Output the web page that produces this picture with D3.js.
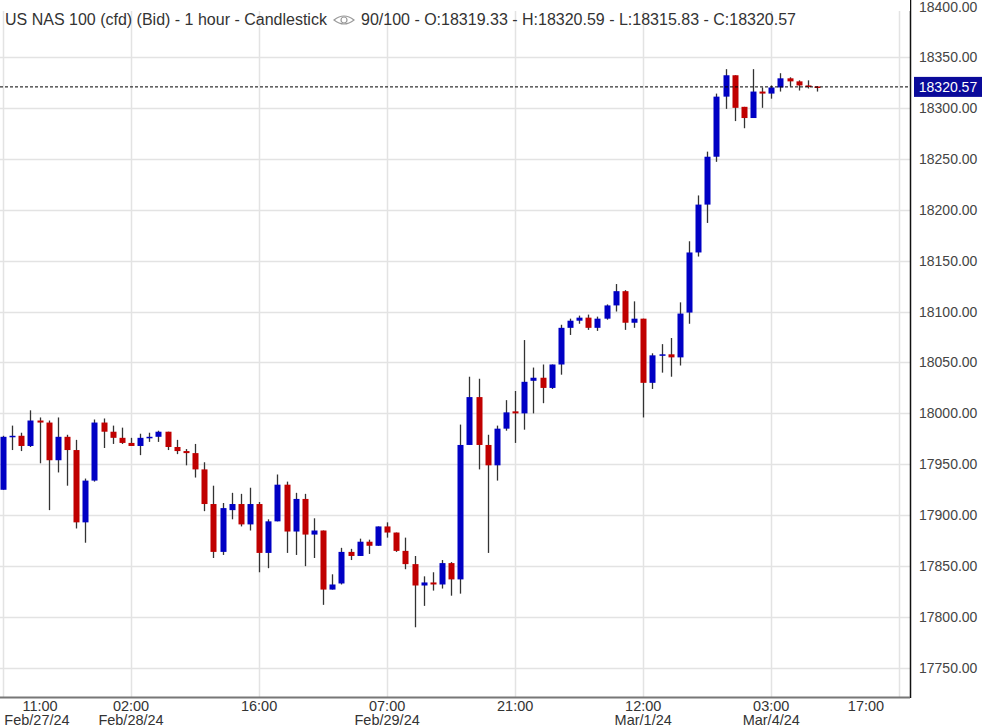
<!DOCTYPE html>
<html><head><meta charset="utf-8">
<script src="https://cdn.jsdelivr.net/npm/d3@7"></script>
<style>body{margin:0;background:#fff}svg{display:block}</style>
</head><body><svg id="c" width="992" height="728"></svg>
<script>
const opens  = [17925,17977,17978,17968,17993,17991,17954,17977,17964,17893,17934,17991,17982,17976,17971,17968,17976,17977,17982,17967,17963,17961,17945,17911,17864,17905,17911,17891,17911,17863,17894,17930,17884,17916,17881,17885,17827,17833,17864,17860,17874,17870,17889,17883,17865,17852,17831,17834,17832,17853,17837,17969,18016,17969,17949,17985,18002,18000,18032,18035,18025,18048,18084,18091,18094,18084,18093,18106,18120,18089,18093,18030,18057,18058,18055,18099,18158,18205,18252,18311,18332,18301,18290,18316,18314,18320,18329,18326,18322,18321];
const highs  = [17978,17988,17981,18003,17996,17993,17996,17979,17974,17936,17994,17995,17988,17986,17976,17980,17981,17983,17982,17974,17965,17970,17952,17929,17912,17922,17921,17927,17913,17896,17940,17933,17922,17921,17897,17885,17842,17868,17867,17877,17876,17889,17893,17883,17878,17860,17840,17844,17856,17854,17989,18036,18034,17979,17988,18013,18022,18072,18045,18048,18048,18087,18093,18096,18097,18095,18107,18127,18121,18110,18093,18059,18068,18074,18109,18169,18214,18257,18314,18338,18332,18301,18338,18320,18322,18334,18330,18327,18327,18321];
const lows   = [17925,17964,17963,17967,17951,17905,17942,17929,17887,17873,17933,17966,17970,17970,17968,17959,17972,17972,17964,17960,17949,17937,17904,17858,17861,17896,17889,17885,17844,17848,17894,17863,17861,17850,17858,17812,17827,17832,17856,17860,17862,17870,17878,17864,17847,17790,17811,17826,17828,17821,17823,17969,17945,17863,17934,17983,17971,17984,18000,18010,18024,18038,18077,18088,18082,18081,18092,18100,18082,18084,17996,18024,18040,18036,18047,18088,18154,18187,18247,18299,18287,18280,18290,18300,18309,18316,18321,18317,18319,18316];
const closes = [17977,17978,17968,17993,17991,17954,17977,17964,17893,17934,17991,17982,17976,17971,17968,17976,17977,17982,17967,17963,17961,17945,17911,17864,17907,17911,17891,17911,17863,17894,17930,17884,17916,17881,17885,17827,17832,17864,17860,17874,17870,17889,17883,17865,17852,17831,17834,17832,17853,17837,17969,18016,17969,17949,17985,18001,18000,18031,18035,18025,18048,18084,18091,18094,18084,18093,18106,18120,18089,18093,18030,18057,18058,18055,18098,18158,18205,18252,18311,18332,18300,18290,18316,18314,18320,18329,18326,18322,18321,18320.57];
const tickIdx   = [0,14,28,42,56,70,84,98];
const tickTime  = ["11:00","02:00","16:00","07:00","21:00","12:00","03:00","17:00"];
const tickDate  = ["Feb/27/24","Feb/28/24","","Feb/29/24","","Mar/1/24","Mar/4/24",""];
const yTicks = [17750,17800,17850,17900,17950,18000,18050,18100,18150,18200,18250,18300,18350,18400];
const lastPrice = 18320.57;

const svg = d3.select("#c");
const PR = 910, PB = 697;
const x = d3.scaleLinear().domain([0, 99.5]).range([3, 3 + 99.5*9.146]);
const y = d3.scaleLinear().domain([17750, 18400]).range([668, 6]);
const blue = "#0000c4", red = "#c00000";

const g = svg.append("g");
g.selectAll(".hg").data(yTicks).join("line").attr("x1",0).attr("x2",PR)
  .attr("y1",d=>Math.round(y(d))+.5).attr("y2",d=>Math.round(y(d))+.5).attr("stroke","#e3e3e3").attr("stroke-width",1.5);
g.selectAll(".vg").data(tickIdx).join("line").attr("y1",0).attr("y2",PB)
  .attr("x1",d=>Math.round(x(d))+.5).attr("x2",d=>Math.round(x(d))+.5).attr("stroke","#e3e3e3").attr("stroke-width",1.5);

const idx = d3.range(opens.length);
g.selectAll(".wick").data(idx).join("line")
  .attr("x1",i=>Math.round(x(i))+.5).attr("x2",i=>Math.round(x(i))+.5)
  .attr("y1",i=>y(highs[i])).attr("y2",i=>y(lows[i])).attr("stroke","#333").attr("stroke-width",1.3);
g.selectAll(".body").data(idx).join("rect")
  .attr("x",i=>Math.round(x(i))-2.5).attr("width",6)
  .attr("y",i=>y(Math.max(opens[i],closes[i])))
  .attr("height",i=>Math.max(1.5, Math.abs(y(opens[i])-y(closes[i]))))
  .attr("fill",i=>closes[i]>=opens[i]?blue:red);

g.append("line").attr("x1",0).attr("x2",PR).attr("y1",y(lastPrice)).attr("y2",y(lastPrice))
  .attr("stroke","#000").attr("stroke-dasharray","3,2");

svg.append("rect").attr("x",PR).attr("y",0).attr("width",992-PR).attr("height",728).attr("fill","#fff");
svg.append("rect").attr("x",0).attr("y",PB).attr("width",PR).attr("height",728-PB).attr("fill","#fff");
svg.append("line").attr("x1",PR+.5).attr("x2",PR+.5).attr("y1",0).attr("y2",PB+1).attr("stroke","#111").attr("stroke-width",1.5);
svg.append("line").attr("x1",0).attr("x2",PR).attr("y1",PB+.5).attr("y2",PB+.5).attr("stroke","#777").attr("stroke-width",2);

svg.selectAll(".yl").data(yTicks).join("text").attr("x",919).attr("y",d=>Math.max(12, y(d)+5))
  .attr("font-family","Liberation Sans, Arial, sans-serif").attr("font-size",14).attr("fill","#444")
  .text(d=>d.toFixed(2));
svg.append("rect").attr("x",914).attr("y",y(lastPrice)-10).attr("width",68).attr("height",20).attr("fill","#0a0a9a");
svg.append("text").attr("x",948).attr("y",y(lastPrice)+5).attr("text-anchor","middle")
  .attr("font-family","Liberation Sans, Arial, sans-serif").attr("font-size",14).attr("fill","#fff").text(lastPrice.toFixed(2));

const fx = "Liberation Sans Narrow, Arial Narrow, sans-serif";
tickIdx.forEach((t,k)=>{
  let cx = Math.min(PR - 44, x(t));
  svg.append("text").attr("x",k==0?40:cx).attr("y",711).attr("text-anchor","middle")
    .attr("font-family",fx).attr("font-size",14.5).attr("fill","#333").text(tickTime[k]);
  if (tickDate[k]) svg.append("text").attr("x",k==0?37:cx).attr("y",725).attr("text-anchor","middle")
    .attr("font-family",fx).attr("font-size",14.5).attr("fill","#333").text(tickDate[k]);
});

const tf = "Liberation Sans, Arial, sans-serif";
svg.append("rect").attr("x",0).attr("y",0).attr("width",PR).attr("height",11).attr("fill","#fff");
svg.append("text").attr("x",5).attr("y",25).attr("font-family",tf).attr("font-size",16).attr("fill","#333")
  .text("US NAS 100 (cfd) (Bid) - 1 hour - Candlestick");
const eye = svg.append("g").attr("transform","translate(344,20)");
eye.append("path").attr("d","M-10,0 Q0,-8 10,0 Q0,8 -10,0Z").attr("fill","none").attr("stroke","#999").attr("stroke-width",1.2);
eye.append("circle").attr("r",3).attr("fill","none").attr("stroke","#999").attr("stroke-width",1.2);
svg.append("text").attr("x",361).attr("y",25).attr("font-family",tf).attr("font-size",16).attr("fill","#333")
  .text("90/100 - O:18319.33 - H:18320.59 - L:18315.83 - C:18320.57");
</script></body></html>
